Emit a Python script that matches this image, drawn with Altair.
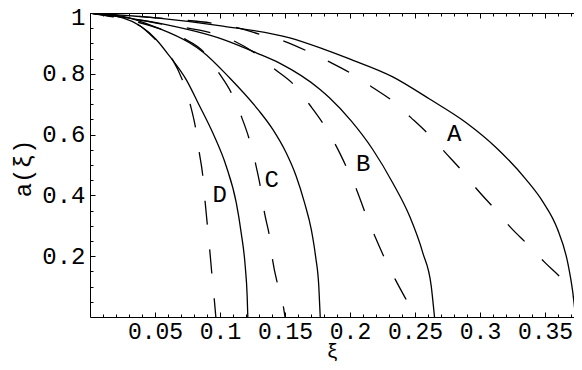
import altair as alt
import pandas as pd

# ---------------- data ----------------
A_solid_xi = [0, 0.0509, 0.1022, 0.1537, 0.1791, 0.1996, 0.2329, 0.2612, 0.2894, 0.3125, 0.3355, 0.3485, 0.3595, 0.3675, 0.3714, 0.3735]
A_solid_a = [1, 0.984, 0.957, 0.918, 0.882, 0.849, 0.790, 0.717, 0.639, 0.557, 0.452, 0.378, 0.290, 0.178, 0.080, 0.0]

A_dash_xi = [0, 0.0509, 0.1137, 0.1317, 0.1496, 0.1675, 0.1842, 0.2009, 0.2171, 0.2329, 0.2471, 0.2606, 0.2735,
             0.2863, 0.2983, 0.3112, 0.3235, 0.3368, 0.3502, 0.3637, 0.3742, 0.3781, 0.380]
A_dash_a = [1, 0.984, 0.951, 0.929, 0.907, 0.874, 0.839, 0.801, 0.756, 0.710, 0.655, 0.600, 0.540,
            0.480, 0.417, 0.356, 0.295, 0.238, 0.178, 0.120, 0.048, 0.015, 0.0]

B_solid_xi = [0, 0.0509, 0.1022, 0.1278, 0.1458, 0.1765, 0.1842, 0.2009, 0.2175, 0.2329, 0.2458, 0.256, 0.2625, 0.265]
B_solid_a = [1, 0.968, 0.913, 0.869, 0.835, 0.750, 0.721, 0.645, 0.551, 0.441, 0.332, 0.211, 0.101, 0.0]

B_dash_xi = [0, 0.0509, 0.1112, 0.1273, 0.1419, 0.1573, 0.1688, 0.1798, 0.1894, 0.1975, 0.2055, 0.2119, 0.2194,
             0.2271, 0.2355, 0.2445, 0.2504]
B_dash_a = [1, 0.967, 0.907, 0.867, 0.816, 0.762, 0.699, 0.633, 0.562, 0.491, 0.414, 0.340, 0.263,
            0.189, 0.118, 0.047, 0.0]

C_solid_xi = [0, 0.0252, 0.0509, 0.0765, 0.0868, 0.1073, 0.1291, 0.1406, 0.1509, 0.1586, 0.165, 0.1702, 0.1735, 0.176, 0.1771]
C_solid_a = [1, 0.989, 0.953, 0.902, 0.872, 0.787, 0.683, 0.617, 0.540, 0.463, 0.376, 0.288, 0.200, 0.101, 0.0]

C_dash_xi = [0, 0.0509, 0.0714, 0.0881, 0.0991, 0.1086, 0.1163, 0.1227, 0.1273, 0.1312, 0.1342, 0.1381, 0.1406,
             0.1445, 0.1491, 0.150]
C_dash_a = [1, 0.952, 0.918, 0.869, 0.803, 0.738, 0.661, 0.582, 0.505, 0.425, 0.343, 0.264, 0.184,
            0.104, 0.025, 0.0]

D_solid_xi = [0, 0.0252, 0.0509, 0.0612, 0.074, 0.0842, 0.0945, 0.1048, 0.1125, 0.1163, 0.1194, 0.1209, 0.1214]
D_solid_a = [1, 0.984, 0.913, 0.858, 0.781, 0.695, 0.605, 0.496, 0.376, 0.277, 0.167, 0.068, 0.0]

D_dash_xi = [0, 0.0368, 0.0509, 0.0632, 0.0714, 0.0771, 0.0812, 0.0841, 0.0868, 0.0885, 0.0905, 0.0922, 0.0939,
             0.0956, 0.0968]
D_dash_a = [1, 0.962, 0.910, 0.849, 0.776, 0.699, 0.622, 0.540, 0.463, 0.381, 0.293, 0.216, 0.134,
            0.058, 0.0]

label_text = ["A", "B", "C", "D"]
label_xi = [0.2802, 0.2102, 0.1398, 0.0998]
label_a = [0.578, 0.480, 0.428, 0.379]

x_major = [0.05, 0.1, 0.15, 0.2, 0.25, 0.3, 0.35]
x_minor = [round(0.01 * i, 2) for i in range(1, 38)]
y_major = [0.2, 0.4, 0.6, 0.8, 1.0]
y_minor = [round(0.05 * i, 2) for i in range(1, 20)]

# ---------------- tables ----------------
curves = [
    ("A", "solid", A_solid_xi, A_solid_a), ("A", "dash", A_dash_xi, A_dash_a),
    ("B", "solid", B_solid_xi, B_solid_a), ("B", "dash", B_dash_xi, B_dash_a),
    ("C", "solid", C_solid_xi, C_solid_a), ("C", "dash", C_dash_xi, C_dash_a),
    ("D", "solid", D_solid_xi, D_solid_a), ("D", "dash", D_dash_xi, D_dash_a),
]
rows = []
for name, style, xs, ys in curves:
    for i, (xv, yv) in enumerate(zip(xs, ys)):
        rows.append({"curve": name + "-" + style, "style": style, "xi": xv, "a": yv, "ord": i})
df = pd.DataFrame(rows)
lab_df = pd.DataFrame({"label": label_text, "xi": label_xi, "a": label_a})

FONT = "Liberation Mono"
# plot area is 484 px wide; the visible part of the frame ends at xi = 0.3723
xscale = alt.Scale(domain=[0, 0.3723], nice=False, zero=False)
yscale = alt.Scale(domain=[0, 1], nice=False, zero=False)


def tick_axis(orient, values, size):
    return alt.Axis(orient=orient, values=values, tickSize=size, offset=-size, domain=False,
                    grid=False, labels=False, ticks=True, tickColor="black", tickWidth=1, title=None)


def frame_axis(orient):
    return alt.Axis(orient=orient, domain=True, domainColor="black", domainWidth=1, ticks=False,
                    labels=False, grid=False, title=None)


x_main = alt.Axis(orient="bottom", values=x_major, tickSize=5, offset=-5, domain=False, grid=False,
                  tickColor="black", tickWidth=1, format="~g", labelFont=FONT, labelFontSize=23,
                  labelColor="black", labelPadding=3, labelFlush=False, labelOverlap=False,
                  title="ξ", titleFont=FONT, titleFontSize=20, titleFontWeight="normal",
                  titleColor="black", titleBaseline="alphabetic", titleY=45.5)
y_main = alt.Axis(orient="left", values=y_major, tickSize=5, offset=-5, domain=False, grid=False,
                  tickColor="black", tickWidth=1, format="~g", labelFont=FONT, labelFontSize=24,
                  labelColor="black", labelPadding=5, labelFlush=1, labelFlushOffset=8,
                  labelOverlap=False,
                  title="a(ξ)", titleFont=FONT, titleFontSize=24, titleFontWeight="normal",
                  titleColor="black", titleAngle=270, titleBaseline="middle", titleAlign="center",
                  titleX=-72, titleY=155)

solid = alt.Chart(df).transform_filter("datum.style == 'solid'").mark_line(
    color="black", strokeWidth=1.3, clip=True, interpolate="monotone"
).encode(
    x=alt.X("xi:Q", scale=xscale, axis=x_main),
    y=alt.Y("a:Q", scale=yscale, axis=y_main),
    detail="curve:N",
    order="ord:Q",
)

dashed = alt.Chart(df).transform_filter("datum.style == 'dash'").mark_line(
    color="black", strokeWidth=1.3, clip=True, interpolate="monotone", strokeDash=[24, 25]
).encode(
    x=alt.X("xi:Q", scale=xscale, axis=None),
    y=alt.Y("a:Q", scale=yscale, axis=None),
    detail="curve:N",
    order="ord:Q",
)

labels = alt.Chart(lab_df).mark_text(
    font=FONT, fontSize=24, color="black", align="center", baseline="alphabetic"
).encode(
    x=alt.X("xi:Q", scale=xscale, axis=None),
    y=alt.Y("a:Q", scale=yscale, axis=None),
    text="label:N",
)

ticks_min = alt.Chart(df).mark_point(opacity=0, size=0).encode(
    x=alt.X("xi:Q", scale=xscale, axis=tick_axis("bottom", x_minor, 3)),
    y=alt.Y("a:Q", scale=yscale, axis=tick_axis("left", y_minor, 3)),
)
ticks_top_major = alt.Chart(df).mark_point(opacity=0, size=0).encode(
    x=alt.X("xi:Q", scale=xscale, axis=tick_axis("top", x_major, 5)),
    y=alt.Y("a:Q", scale=yscale, axis=frame_axis("left")),
)
ticks_top_minor = alt.Chart(df).mark_point(opacity=0, size=0).encode(
    x=alt.X("xi:Q", scale=xscale, axis=tick_axis("top", x_minor, 3)),
    y=alt.Y("a:Q", scale=yscale, axis=None),
)
frame_bt = alt.Chart(df).mark_point(opacity=0, size=0).encode(
    x=alt.X("xi:Q", scale=xscale, axis=frame_axis("bottom")),
    y=alt.Y("a:Q", scale=yscale, axis=None),
)
frame_top = alt.Chart(df).mark_point(opacity=0, size=0).encode(
    x=alt.X("xi:Q", scale=xscale, axis=frame_axis("top")),
    y=alt.Y("a:Q", scale=yscale, axis=None),
)

chart = alt.layer(
    solid, dashed, labels, ticks_min, ticks_top_major, ticks_top_minor, frame_bt, frame_top
).resolve_axis(
    x="independent", y="independent"
).properties(
    width=484, height=304,
    padding={"left": 82, "top": 5, "right": 0, "bottom": 45},
    autosize=alt.AutoSizeParams(type="none"),
    background="white",
).configure_view(
    stroke="transparent"
)

chart.save("out.html", embed_options={"renderer": "svg", "actions": False})
